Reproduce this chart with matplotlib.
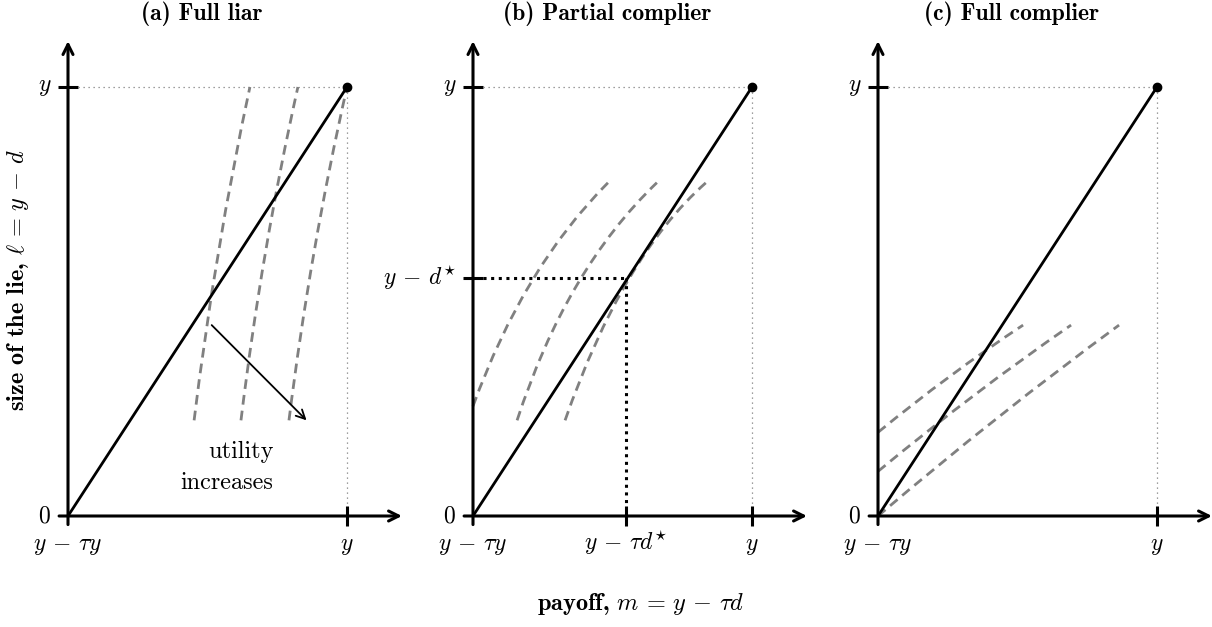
import numpy as np
import matplotlib
matplotlib.use('Agg')
import matplotlib.pyplot as plt
from matplotlib.path import Path
from matplotlib.patches import PathPatch

plt.rcParams['mathtext.fontset'] = 'cm'
plt.rcParams['font.family'] = 'cmr10'
plt.rcParams['axes.formatter.use_mathtext'] = True

# all values in units of y (x: from y - tau*y to y, vertical: from 0 to y)
titles = ['(a) Full liar', '(b) Partial complier', '(c) Full complier']

# indifference curves: (start, middle, end) points
liar_curves = [
    [(0.452, 0.223), (0.539, 0.616), (0.652, 1.0)],
    [(0.620, 0.223), (0.708, 0.616), (0.824, 1.0)],
    [(0.792, 0.223), (0.882, 0.616), (1.0, 1.0)],
]
partial_curves = [
    [(0.0, 0.256), (0.211, 0.548), (0.484, 0.777)],
    [(0.158, 0.223), (0.371, 0.537), (0.659, 0.777)],
    [(0.330, 0.223), (0.558, 0.552), (0.835, 0.777)],
]
complier_curves = [
    [(0.0, 0.195), (0.258, 0.326), (0.520, 0.445)],
    [(0.0, 0.104), (0.343, 0.281), (0.692, 0.445)],
    [(0.0, 0.0), (0.430, 0.230), (0.864, 0.445)],
]
all_curves = [liar_curves, partial_curves, complier_curves]

d_star = 0.555      # y - d*
m_star = 0.548      # y - tau d*

xticks = [[0, 1], [0, m_star, 1], [0, 1]]
xtick_labels = [[r'$y \,-\, \tau y$', r'$y$'],
                [r'$y \,-\, \tau y$', r'$y \,-\, \tau d^{\star}$', r'$y$'],
                [r'$y \,-\, \tau y$', r'$y$']]
yticks = [[0, 1], [0, d_star, 1], [0, 1]]
ytick_labels = [[r'$0$', r'$y$'], [r'$0$', r'$y \,-\, d^{\star}$', r'$y$'], [r'$0$', r'$y$']]

W, H = 1212, 627
fig = plt.figure(figsize=(W / 100, H / 100), dpi=100)

x0_px = [68, 473, 878]
sx, sy = 279, 429
y0_px = 627 - 516
xlo, xhi = -0.2, 1.2
ylo, yhi = -0.25, 1.2

gray = '#808080'
fs = 17

for i in range(3):
    left = (x0_px[i] + xlo * sx) / W
    bottom = (y0_px + ylo * sy) / H
    ax = fig.add_axes([left, bottom, (xhi - xlo) * sx / W, (yhi - ylo) * sy / H])
    ax.set_xlim(xlo, xhi)
    ax.set_ylim(ylo, yhi)
    ax.axis('off')

    # axes with arrows
    ax.annotate('', xy=(1.197, 0), xytext=(-0.032, 0),
                arrowprops=dict(arrowstyle='->', lw=2.2, color='black',
                                shrinkA=0, shrinkB=0, mutation_scale=18))
    ax.annotate('', xy=(0, 1.107), xytext=(0, -0.02),
                arrowprops=dict(arrowstyle='->', lw=2.2, color='black',
                                shrinkA=0, shrinkB=0, mutation_scale=18))

    # ticks and labels
    for xt, lab in zip(xticks[i], xtick_labels[i]):
        if xt != 0:
            ax.plot([xt, xt], [-0.023, 0.023], color='black', lw=2.2, solid_capstyle='butt')
        ax.text(xt, -0.08, lab, ha='center', va='baseline', fontsize=fs)
    for yt, lab in zip(yticks[i], ytick_labels[i]):
        if yt != 0:
            ax.plot([-0.036, 0.036], [yt, yt], color='black', lw=2.2, solid_capstyle='butt')
        ax.text(-0.06, yt, lab, ha='right', va='center', fontsize=fs)

    # guide lines to the endpoint
    ax.plot([0.036, 1], [1, 1], color=gray, lw=0.9, ls=(0, (1, 3)))
    ax.plot([1, 1], [1, 0.023], color=gray, lw=0.9, ls=(0, (1, 3)))

    # indifference curves
    for start, mid, end in all_curves[i]:
        p0, pm, p2 = np.array(start), np.array(mid), np.array(end)
        ctrl = 2 * pm - 0.5 * (p0 + p2)
        path = Path([p0, ctrl, p2], [Path.MOVETO, Path.CURVE3, Path.CURVE3])
        ax.add_patch(PathPatch(path, fill=False, edgecolor=gray, lw=2.0,
                               ls=(0, (3.5, 2.2)), zorder=2))

    # budget line
    ax.plot([0, 1], [0, 1], color='black', lw=2.0, zorder=3)
    ax.plot([1], [1], 'o', color='black', ms=6, zorder=4)

    ax.text(0.48, 1.17, titles[i], ha='center', va='center', fontsize=17,
            family='cmb10')

    if i == 1:
        ax.plot([0.036, m_star], [d_star, d_star], color='black', lw=2.2,
                ls=(0, (1, 1.5)), zorder=3)
        ax.plot([m_star, m_star], [d_star, 0.023], color='black', lw=2.2,
                ls=(0, (1, 1.5)), zorder=3)
        ax.text(0.6, -0.205, r'payoff, $m \,=\, y \,-\, \tau d$', ha='center',
                va='center', fontsize=17.5, family='cmb10')

    if i == 0:
        ax.annotate('', xy=(0.855, 0.223), xytext=(0.515, 0.445),
                    arrowprops=dict(arrowstyle='->', lw=1.3, color='black',
                                    shrinkA=0, shrinkB=0, mutation_scale=16))
        ax.text(0.736, 0.149, 'utility', ha='right', va='center', fontsize=17.5)
        ax.text(0.736, 0.076, 'increases', ha='right', va='center', fontsize=17.5)
        ax.text(-0.18, 0.55, r'size of the lie, $\ell \,=\, y \,-\, d$', rotation=90,
                ha='center', va='center', fontsize=17.5, family='cmb10')

fig.savefig('out.png', dpi=100)
